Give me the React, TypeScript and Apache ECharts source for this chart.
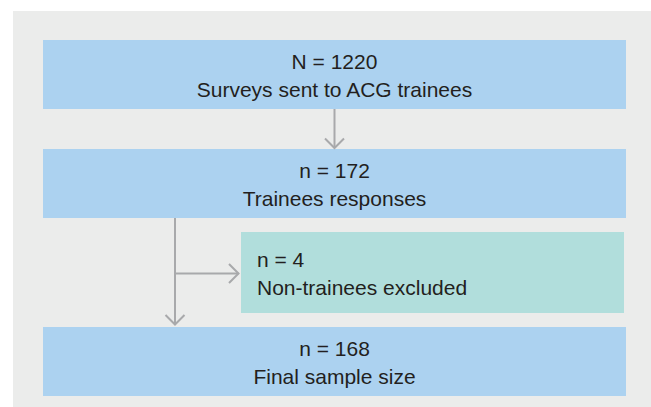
import React, { useEffect, useRef } from "react";
import * as echarts from "echarts";

// Flowchart data
const countLabels = ["N = 1220", "n = 172", "n = 4", "n = 168"];
const stepLabels = [
  "Surveys sent to ACG trainees",
  "Trainees responses",
  "Non-trainees excluded",
  "Final sample size",
];
const stepKinds = ["main", "main", "side", "main"];

const COLORS = {
  panel: "#ebeceb",
  main: "#acd2f0",
  side: "#b1dedc",
  text: "#231f20",
  arrow: "#a8a9ab",
};

const FONT = '21px "Liberation Sans", Arial, sans-serif';

export default function App() {
  const ref = useRef<HTMLDivElement>(null);

  useEffect(() => {
    document.body.style.margin = "0";
    if (!ref.current) return;
    const chart = echarts.init(ref.current, null, { renderer: "svg" });

    // layout of boxes: [x, y, w, h]
    const layout = [
      [43, 40, 583, 69],
      [43, 149, 583, 69],
      [241, 232, 383, 81],
      [43, 327, 583, 69],
    ];
    const lineGap = 28;

    const elements: any[] = [];
    elements.push({
      type: "rect",
      shape: { x: 13, y: 11, width: 651, height: 410 },
      style: { fill: COLORS.panel },
      silent: true,
    });

    layout.forEach(([x, y, w, h], i) => {
      const kind = stepKinds[i];
      elements.push({
        type: "rect",
        shape: { x, y, width: w, height: h },
        style: { fill: kind === "main" ? COLORS.main : COLORS.side },
      });
      const cy = y + h / 2;
      const tx = kind === "main" ? x + w / 2 : x + 16;
      const align = kind === "main" ? "center" : "left";
      elements.push({
        type: "text",
        x: tx,
        y: cy - lineGap / 2 + 1,
        style: {
          text: countLabels[i],
          font: FONT,
          fill: COLORS.text,
          textAlign: align,
          textVerticalAlign: "middle",
        },
      });
      elements.push({
        type: "text",
        x: tx,
        y: cy + lineGap / 2 + 1,
        style: {
          text: stepLabels[i],
          font: FONT,
          fill: COLORS.text,
          textAlign: align,
          textVerticalAlign: "middle",
        },
      });
    });

    const lineStyle = { stroke: COLORS.arrow, lineWidth: 2, fill: "none" };
    const head = 9.5;

    // Arrow 1: box 0 -> box 1
    const ax = 334.5;
    const b0 = layout[0][1] + layout[0][3];
    const t1 = layout[1][1] - 1;
    elements.push({ type: "line", shape: { x1: ax, y1: b0, x2: ax, y2: t1 }, style: lineStyle });
    elements.push({
      type: "polyline",
      shape: { points: [[ax - head, t1 - head], [ax, t1], [ax + head, t1 - head]] },
      style: lineStyle,
    });

    // Arrow 2: box 1 -> box 3 (vertical)
    const vx = 175;
    const b1 = layout[1][1] + layout[1][3];
    const t3 = layout[3][1] - 2.5;
    elements.push({ type: "line", shape: { x1: vx, y1: b1, x2: vx, y2: t3 }, style: lineStyle });
    elements.push({
      type: "polyline",
      shape: { points: [[vx - head, t3 - head], [vx, t3], [vx + head, t3 - head]] },
      style: lineStyle,
    });

    // Arrow 3: branch -> box 2 (horizontal)
    const hy = 273.5;
    const l2 = layout[2][0] - 2.5;
    elements.push({ type: "line", shape: { x1: vx, y1: hy, x2: l2, y2: hy }, style: lineStyle });
    elements.push({
      type: "polyline",
      shape: { points: [[l2 - head, hy - head], [l2, hy], [l2 - head, hy + head]] },
      style: lineStyle,
    });

    chart.setOption({
      animation: false,
      backgroundColor: "#ffffff",
      graphic: { elements },
    });

    return () => chart.dispose();
  }, []);

  return <div ref={ref} style={{ width: 651, height: 407 }} />;
}
